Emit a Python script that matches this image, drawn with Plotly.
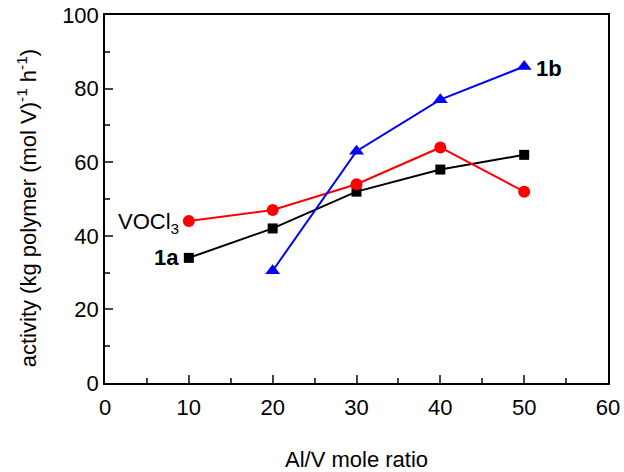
import plotly.graph_objects as go

x_1a = [10, 20, 30, 40, 50]
y_1a = [34, 42, 52, 58, 62]
x_vocl3 = [10, 20, 30, 40, 50]
y_vocl3 = [44, 47, 54, 64, 52]
x_1b = [20, 30, 40, 50]
y_1b = [30.5, 63, 77, 86]

x_ticks = [0, 10, 20, 30, 40, 50, 60]
y_ticks = [0, 20, 40, 60, 80, 100]

FONT = "Liberation Sans, Arial, sans-serif"

fig = go.Figure()
fig.add_trace(go.Scatter(x=x_1a, y=y_1a, mode="lines+markers",
                         line=dict(color="black", width=2),
                         marker=dict(symbol="square", size=10, color="black"),
                         showlegend=False, cliponaxis=False))
fig.add_trace(go.Scatter(x=x_vocl3, y=y_vocl3, mode="lines+markers",
                         line=dict(color="red", width=2),
                         marker=dict(symbol="circle", size=12, color="red"),
                         showlegend=False, cliponaxis=False))
fig.add_trace(go.Scatter(x=x_1b, y=y_1b, mode="lines+markers",
                         line=dict(color="blue", width=2),
                         marker=dict(symbol="triangle-up", size=13, color="blue"),
                         showlegend=False, cliponaxis=False))

fig.add_annotation(x=x_vocl3[0], y=y_vocl3[0], text="VOCl<sub>3</sub>", showarrow=False,
                   xanchor="right", xshift=-8, yshift=-2, font=dict(size=22, color="black", family=FONT))
fig.add_annotation(x=x_1a[0], y=y_1a[0], text="<b>1a</b>", showarrow=False,
                   xanchor="right", xshift=-8, font=dict(size=22, color="black", family=FONT))
fig.add_annotation(x=x_1b[-1], y=y_1b[-1], text="<b>1b</b>", showarrow=False,
                   xanchor="left", xshift=10, yshift=-2, font=dict(size=22, color="black", family=FONT))
# y-axis title as a rotated annotation (placed like the reference)
fig.add_annotation(xref="paper", yref="paper", x=-0.155, y=0.475,
                   text="activity (kg polymer (mol V)<sup>-1</sup> h<sup>-1</sup>)",
                   textangle=-90, showarrow=False, xanchor="center", yanchor="middle",
                   font=dict(size=22, color="black", family=FONT))

fig.update_layout(
    width=624, height=472,
    margin=dict(l=105, r=16, t=15, b=89, autoexpand=False),
    paper_bgcolor="white", plot_bgcolor="white",
    font=dict(family=FONT, color="black", size=22),
    xaxis=dict(range=[0, 60], tickvals=x_ticks, ticks="inside", ticklen=8, tickwidth=1.5,
               minor=dict(dtick=5, ticks="inside", ticklen=5, tickwidth=1.5),
               showline=True, linecolor="black", linewidth=1.5, mirror=True,
               showgrid=False, zeroline=False, tickfont=dict(size=22), automargin=False,
               ticklabelstandoff=4,
               title=dict(text="Al/V mole ratio", font=dict(size=22), standoff=39)),
    yaxis=dict(range=[0, 100], tickvals=y_ticks, ticks="inside", ticklen=8, tickwidth=1.5,
               minor=dict(dtick=10, ticks="inside", ticklen=5, tickwidth=1.5),
               showline=True, linecolor="black", linewidth=1.5, mirror=True,
               showgrid=False, zeroline=False, tickfont=dict(size=22), automargin=False),
)

fig.write_html("out.html", config={"displayModeBar": False},
               post_script="document.body.style.margin='0';document.body.style.overflow='hidden';")
